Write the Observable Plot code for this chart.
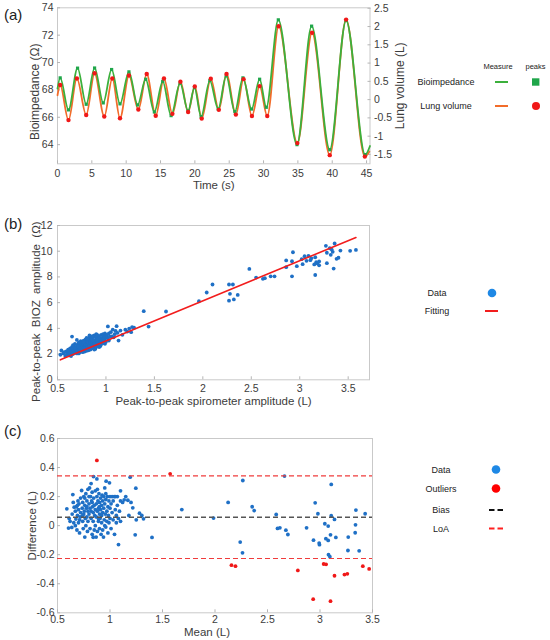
<!DOCTYPE html>
<html><head><meta charset="utf-8">
<script src="https://cdn.jsdelivr.net/npm/d3@7"></script>
<script src="https://cdn.jsdelivr.net/npm/@observablehq/plot@0.6"></script>
<style>
body{margin:0;background:#fff;}
#wrap{position:relative;width:550px;height:640px;font-family:"Liberation Sans",Arial,sans-serif;overflow:hidden;}
</style></head><body><div id="wrap"></div>
<script>
// ---------- Panel (a): breathing signals (start, extrema..., end) ----------
const bioT = [0, 0.39, 1.6, 2.92, 4.18, 5.4, 6.66, 7.88, 9.1, 10.4, 11.67, 12.84, 14.1, 15.32, 16.54, 17.85, 19.02, 19.94, 20.91, 22.18, 23.4, 24.56, 25.83, 27.0, 28.26, 29.43, 30.4, 32.15, 34.87, 37.0, 39.64, 42.02, 44.8, 45.5];
const bioZ = [68.1, 68.88, 66.54, 69.59, 66.95, 69.6, 67.05, 69.49, 66.98, 69.32, 66.9, 68.78, 66.39, 68.63, 66.12, 68.49, 66.46, 68.17, 66.05, 68.68, 66.6, 69.02, 66.41, 68.88, 66.6, 68.78, 66.73, 73.12, 64.0, 72.66, 63.63, 73.07, 63.27, 63.9];
const lungT = [0, 0.39, 1.6, 2.82, 4.18, 5.4, 6.81, 7.98, 9.1, 10.4, 11.77, 12.99, 14.3, 15.5, 16.73, 17.9, 19.02, 19.99, 21.0, 22.32, 23.49, 24.61, 25.97, 27.09, 28.31, 29.43, 30.54, 32.2, 34.92, 37.06, 39.64, 42.02, 44.75, 45.4];
const lungV = [0.12, 0.40, -0.56, 0.58, -0.42, 0.72, -0.46, 0.58, -0.51, 0.66, -0.27, 0.70, -0.44, 0.58, -0.39, 0.49, -0.34, 0.36, -0.52, 0.57, -0.28, 0.70, -0.41, 0.56, -0.45, 0.37, -0.45, 2.01, -1.19, 1.83, -1.52, 2.19, -1.56, -1.42];
const volOffset = 67.29;   // Ω at 0 L on the right axis
const volScale = 2.67;     // Ω per L
const timeTicks = [0, 5, 10, 15, 20, 25, 30, 35, 40, 45];
const bioTicks = [64, 66, 68, 70, 72, 74];
const volTicks = [-1.5, -1, -0.5, 0, 0.5, 1, 1.5, 2, 2.5];

// ---------- Panel (b): peak-to-peak amplitudes [spirometer L, BIOZ Ω] ----------
const bDense = [
[0.53,1.95],[0.54,2.28],[0.56,2.05],[0.58,1.85],[0.59,2.2],[0.6,2.1],[0.6,1.98],[0.57,2.15],
[0.61,2.35],[0.62,1.9],[0.62,2.2],[0.63,2.45],[0.63,2.05],[0.64,2.3],[0.64,1.85],[0.65,3.36],[0.65,2.15],[0.65,2.55],
[0.66,2.4],[0.66,2.0],[0.67,2.62],[0.67,2.25],[0.68,2.1],[0.68,2.8],[0.69,2.45],[0.69,2.3],[0.7,3.1],[0.7,2.6],[0.7,2.05],[0.7,2.38],[0.68,2.52],[0.66,2.7],
[0.71,2.75],[0.71,2.2],[0.72,2.5],[0.72,2.9],[0.72,2.35],[0.73,2.65],[0.73,2.15],[0.74,2.8],[0.74,2.45],[0.74,3.0],[0.75,2.55],[0.75,2.3],[0.75,2.95],[0.73,2.42],[0.71,2.6],[0.75,2.7],[0.74,2.25],[0.72,2.05],
[0.76,2.6],[0.76,2.85],[0.76,2.35],[0.77,3.05],[0.77,2.5],[0.77,2.75],[0.78,2.4],[0.78,2.9],[0.78,2.62],[0.79,3.15],[0.79,2.55],[0.79,2.3],[0.8,2.8],[0.8,2.45],[0.8,3.0],[0.8,2.65],[0.78,2.2],[0.76,2.15],[0.8,3.25],[0.79,2.72],[0.77,2.95],[0.8,2.25],
[0.81,2.7],[0.81,2.95],[0.81,2.5],[0.82,3.1],[0.82,2.6],[0.82,2.85],[0.83,2.4],[0.83,3.3],[0.83,2.75],[0.84,2.55],[0.84,3.0],[0.84,2.9],[0.85,2.65],[0.85,3.2],[0.85,2.45],[0.85,2.8],[0.83,3.45],[0.82,2.3],[0.84,2.35],[0.81,3.2],[0.85,3.05],[0.83,2.62],
[0.86,2.9],[0.86,2.6],[0.86,3.15],[0.87,2.75],[0.87,3.35],[0.87,2.5],[0.88,3.0],[0.88,2.85],[0.88,3.45],[0.89,2.65],[0.89,3.1],[0.89,2.4],[0.9,2.95],[0.9,3.25],[0.9,2.7],[0.9,2.55],[0.88,2.35],[0.86,3.4],[0.87,3.05],[0.89,2.82],[0.9,3.55],[0.86,2.45],
[0.91,3.0],[0.91,2.8],[0.91,3.3],[0.92,2.65],[0.92,3.15],[0.92,2.9],[0.93,3.4],[0.93,2.75],[0.93,3.05],[0.94,2.85],[0.94,3.2],[0.94,2.6],[0.95,3.5],[0.95,2.95],[0.95,3.1],[0.93,2.55],[0.91,3.5],[0.95,2.75],
[0.96,3.25],[0.96,2.9],[0.97,3.55],[0.97,3.0],[0.97,3.3],[0.98,2.85],[0.98,3.4],[0.98,3.15],[0.99,3.6],[0.99,3.05],[1.0,3.3],[1.0,2.95],[1.0,3.5],[0.99,2.8],
[1.01,3.45],[1.02,4.15],[1.02,3.2],[1.03,3.6],[1.04,3.35],[1.05,3.7],[1.06,3.38],[1.07,3.9],[1.08,3.3],[1.09,3.55],[1.1,3.8],[1.03,3.05],
[1.11,4.17],[1.12,3.65],[1.13,3.05],[1.15,3.83],[1.17,3.5],[1.2,3.9],[1.24,3.98],[1.26,3.7],[1.27,4.1],[1.29,4.05],[1.22,3.75]
];
const bMid = [
[1.39,5.34],[1.44,4.14],[1.62,5.31],[1.96,6.11],[2.04,6.79],[2.1,7.41],[2.27,7.41],[2.31,7.41],[2.28,6.69],[2.36,6.6],[2.27,6.15],[2.32,6.25],
[2.48,8.62],[2.55,7.95],[2.62,7.85],[2.64,7.9],[2.7,8.05],[2.74,8.05]
];
const bHigh = [
[2.86,9.28],[2.86,8.76],[2.92,9.22],[2.93,9.92],[2.92,8.05],[2.97,8.84],[3.02,9.38],[3.03,8.99],[3.05,9.61],[3.07,9.25],[3.09,9.64],[3.11,9.30],[3.12,9.45],[3.16,9.53],[3.17,9.15],[3.15,8.97],[3.16,8.15],[3.18,9.05],[3.2,8.9],
[3.27,10.42],[3.31,10.23],[3.36,10.60],[3.33,10.13],[3.28,9.88],[3.32,9.72],[3.28,9.07],[3.35,8.65],[3.38,9.41],[3.40,9.49],[3.42,10.05],[3.52,10.03],[3.58,10.1],[3.34,9.95],[3.2,9.2]
];
const fitSlope = 3.12;
const fitIntercept = -0.10;
const bXTicks = [0.5, 1, 1.5, 2, 2.5, 3, 3.5];
const bYTicks = [0, 2, 4, 6, 8, 10, 12];

// ---------- Panel (c): Bland–Altman [mean L, difference L] ----------
const cDense = [
[0.589,0.116],[0.605,-0.017],[0.611,0.05],[0.636,-0.012],[0.646,0.214],[0.659,0.127],[0.64,0.08],[0.62,0.03],[0.65,0.16],[0.655,0.02],
[0.67,0.1],[0.675,0.045],[0.68,0.13],[0.685,-0.03],[0.69,0.07],[0.695,0.17],[0.7,0.02],[0.7,0.11],[0.705,0.15],[0.71,-0.05],[0.715,0.06],[0.72,0.19],[0.72,0.09],[0.67,0.0],[0.69,0.14],[0.71,0.04],
[0.73,0.242],[0.735,0.12],[0.74,0.03],[0.74,0.16],[0.745,-0.02],[0.75,0.08],[0.75,0.2],[0.755,0.1],[0.76,-0.079],[0.76,0.14],[0.765,0.05],[0.77,0.22],[0.77,0.0],[0.775,0.12],[0.78,0.17],[0.78,0.06],[0.785,-0.04],[0.79,0.1],[0.79,0.25],[0.79,0.03],[0.76,0.19],[0.74,0.07],[0.78,0.13],
[0.8,0.15],[0.8,0.08],[0.805,0.26],[0.81,-0.02],[0.81,0.12],[0.815,0.2],[0.82,0.05],[0.82,0.1],[0.825,0.17],[0.83,-0.06],[0.83,0.23],[0.835,0.13],[0.84,0.03],[0.84,0.09],[0.843,0.338],[0.845,0.19],[0.85,-0.03],[0.85,0.14],[0.855,0.07],[0.86,0.24],[0.86,0.11],[0.86,0.0],[0.82,0.29],[0.8,0.2],[0.84,-0.08],[0.83,0.16],
[0.868,-0.079],[0.87,0.15],[0.87,0.06],[0.875,0.322],[0.875,0.2],[0.88,0.1],[0.88,-0.04],[0.885,0.17],[0.89,0.03],[0.89,0.12],[0.895,0.22],[0.9,-0.02],[0.9,0.08],[0.9,0.16],[0.905,0.05],[0.91,0.19],[0.91,0.11],[0.915,-0.06],[0.92,0.14],[0.92,0.02],[0.925,0.21],[0.93,0.09],[0.93,0.17],[0.93,-0.03],[0.88,0.25],[0.9,0.13],[0.92,0.07],[0.89,0.05],
[0.938,-0.079],[0.94,0.12],[0.94,0.2],[0.945,0.04],[0.95,0.15],[0.95,0.26],[0.955,0.08],[0.96,-0.01],[0.96,0.18],[0.963,0.306],[0.97,0.1],[0.97,0.03],[0.975,0.2],[0.98,0.13],[0.98,-0.05],[0.985,0.07],[0.99,0.17],[0.995,0.295],[1.0,0.05],[1.0,0.2],[1.0,0.12],[0.96,0.22],[0.95,0.0],[0.99,0.02],
[1.01,0.15],[1.01,-0.02],[1.02,0.2],[1.02,0.09],[1.03,0.04],[1.03,0.17],[1.04,0.2],[1.043,-0.06],[1.05,0.11],[1.05,0.2],[1.06,0.02],[1.07,0.14],[1.07,0.2],[1.08,0.05],[1.081,-0.13],[1.09,0.1],[1.1,0.24],[1.1,0.03],[1.1,0.17],[1.06,0.07],
[1.12,0.16],[1.135,0.178],[1.15,0.2],[1.17,0.175],[1.18,0.07],[1.192,0.334],[1.217,0.123],[1.24,-0.063],[1.246,0.258],[1.25,0.04],[1.281,0.086],[1.303,0.07],[1.319,0.047],[1.2,0.16]
];
const cSpread = [
[1.40,-0.081],[1.684,0.111],[1.986,0.052],[2.125,0.16],[2.265,0.311],[2.24,-0.113],[2.262,-0.187],[2.354,0.13],[2.373,0.104],[2.583,0.077],[2.662,0.341],[2.595,-0.019],[2.618,-0.015],[2.675,-0.031],[2.694,-0.061],[2.872,-0.015],[2.938,-0.1],[2.954,0.157],[2.98,0.082],[2.992,-0.12],[2.995,-0.131],[3.046,0.013],[3.078,-0.003],[3.056,-0.09],[3.078,-0.102],[3.1,-0.063],[3.107,0.068],[3.107,0.284],[3.138,0.043],[3.151,-0.081],[3.081,-0.2],[3.094,-0.214],[3.269,-0.079],[3.266,-0.171],[3.335,-0.049],[3.338,0.006],[3.342,0.107],[3.373,-0.173],[3.43,0.082]
];
const cOutliers = [
[0.875,0.449],[1.573,0.357],[2.157,-0.272],[2.195,-0.279],[2.789,-0.308],[2.935,-0.506],[3.035,-0.264],[3.058,-0.266],[3.138,-0.345],[3.1,-0.52],[3.233,-0.337],[3.26,-0.332],[3.408,-0.279],[3.468,-0.298]
];
const bias = 0.058;
const loaUpper = 0.342;
const loaLower = -0.226;
const cXTicks = [0.5, 1, 1.5, 2, 2.5, 3, 3.5];
const cYTicks = [-0.6, -0.4, -0.2, 0, 0.2, 0.4, 0.6];

// ---------- colours ----------
const green = "#3cb03c", greenMark = "#1fa64a", orange = "#f26c2a", redDot = "#f01818";
const blue = "#1f70c6", red = "#f21d1d", loaRed = "#f03c3c", grey = "#555555";
const tickGrey = "#b5b5b5", frameGrey = "#c9c9c9", textGrey = "#3c3c3c";

const fmt = d => String(Math.round(d * 100) / 100);
const noText = () => "";
const baseStyle = {fontFamily: '"Liberation Sans", Arial, sans-serif', fontSize: "10.5px", color: textGrey, background: "transparent", overflow: "visible"};
const wrap = document.getElementById("wrap");
function place(svg, top) {
  svg.style.position = "absolute"; svg.style.left = "0px"; svg.style.top = top + "px";
  wrap.appendChild(svg);
}
const lab = (s, o) => Plot.text([s], {text: d => d, fontSize: 11.5, fill: textGrey, textAnchor: "middle", lineAnchor: "middle", ...o});
const pairs = a => a.map(([x, y]) => ({x, y}));
// inward tick marks (no labels) + labels without ticks
const ticksX = t => Plot.axisX({ticks: t, tickSize: -3, tickFormat: noText, stroke: tickGrey, label: null});
const ticksY = (t, anchor = "left") => Plot.axisY({anchor, ticks: t, tickSize: -3, tickFormat: noText, stroke: tickGrey, label: null});

// ---------- Panel (a) ----------
const toOhm = v => volOffset + volScale * v;
const bioLine = bioT.map((t, i) => ({t, z: bioZ[i]}));
const lungLine = lungT.map((t, i) => ({t, z: toOhm(lungV[i])}));
const bioPeaks = bioLine.slice(1, -1);
const lungPeaks = lungLine.slice(1, -1);

place(Plot.plot({
  width: 550, height: 200,
  marginLeft: 57, marginRight: 180.5, marginTop: 7.3, marginBottom: 36.7,
  style: baseStyle,
  x: {domain: [0, 45.5]},
  y: {domain: [62.6, 74]},
  marks: [
    Plot.frame({stroke: frameGrey}),
    ticksX(timeTicks),
    ticksY(bioTicks),
    ticksY(volTicks.map(toOhm), "right"),
    Plot.axisX({ticks: timeTicks, tickSize: 0, tickPadding: 6, tickFormat: fmt, label: null}),
    Plot.axisY({ticks: bioTicks, tickSize: 0, tickPadding: 4, tickFormat: fmt, label: null}),
    Plot.axisY({anchor: "right", ticks: volTicks.map(toOhm), tickSize: 0, tickPadding: 4,
      tickFormat: d => fmt((d - volOffset) / volScale), label: null}),
    Plot.line(lungLine, {x: "t", y: "z", stroke: orange, strokeWidth: 1.8, curve: "monotone-x"}),
    Plot.line(bioLine, {x: "t", y: "z", stroke: green, strokeWidth: 1.8, curve: "monotone-x"}),
    Plot.dot(bioPeaks, {x: "t", y: "z", symbol: "square", r: 1.8, fill: greenMark}),
    Plot.dot(lungPeaks, {x: "t", y: "z", r: 2.2, fill: redDot}),
    lab("Time (s)", {frameAnchor: "bottom", dy: 22}),
    lab("Bioimpedance (Ω)", {frameAnchor: "left", dx: -22, dy: 6, rotate: -90, fontSize: 12}),
    lab("Lung volume (L)", {frameAnchor: "right", dx: 30, rotate: -90, fontSize: 12})
  ]
}), 0);

// ---------- Panel (b) ----------
const bAll = pairs([...bDense, ...bMid, ...bHigh]);
const fitRange = d3.extent(bAll, d => d.x);
const fitLine = fitRange.map(x => ({x, y: fitSlope * x + fitIntercept}));

place(Plot.plot({
  width: 550, height: 210,
  marginLeft: 57, marginRight: 181, marginTop: 25, marginBottom: 30.7,
  style: baseStyle,
  x: {domain: [0.5, 3.72]},
  y: {domain: [0, 12]},
  marks: [
    Plot.frame({stroke: frameGrey}),
    ticksX(bXTicks),
    ticksY(bYTicks),
    Plot.axisX({ticks: bXTicks, tickSize: 0, tickPadding: 4.5, tickFormat: fmt, label: null}),
    Plot.axisY({ticks: bYTicks, tickSize: 0, tickPadding: 5, tickFormat: fmt, label: null}),
    Plot.dot(bAll, {x: "x", y: "y", r: 1.9, fill: blue}),
    Plot.line(fitLine, {x: "x", y: "y", stroke: red, strokeWidth: 1.6}),
    lab("Peak-to-peak spirometer amplitude (L)", {frameAnchor: "bottom", dy: 21.5}),
    lab("Peak-to-peak  BIOZ  amplitude  (Ω)", {frameAnchor: "left", dx: -21, dy: 9, rotate: -90})
  ]
}), 200);

// ---------- Panel (c) ----------
place(Plot.plot({
  width: 550, height: 230,
  marginLeft: 57, marginRight: 178, marginTop: 28, marginBottom: 27.7,
  style: baseStyle,
  x: {domain: [0.5, 3.5]},
  y: {domain: [-0.6, 0.6]},
  marks: [
    Plot.frame({stroke: frameGrey}),
    ticksX(cXTicks),
    ticksY(cYTicks),
    Plot.axisX({ticks: cXTicks, tickSize: 0, tickPadding: 3, tickFormat: fmt, label: null}),
    Plot.axisY({ticks: cYTicks, tickSize: 0, tickPadding: 3, tickFormat: fmt, label: null}),
    Plot.dot(pairs([...cDense, ...cSpread]), {x: "x", y: "y", r: 1.9, fill: blue}),
    Plot.dot(pairs(cOutliers), {x: "x", y: "y", r: 1.9, fill: redDot}),
    Plot.ruleY([bias], {stroke: grey, strokeWidth: 1.4, strokeDasharray: "5,3"}),
    Plot.ruleY([loaUpper, loaLower], {stroke: loaRed, strokeWidth: 1.2, strokeDasharray: "5,3"}),
    lab("Mean (L)", {frameAnchor: "bottom", dx: -8, dy: 19.5}),
    lab("Difference (L)", {frameAnchor: "left", dx: -25, rotate: -90})
  ]
}), 410);

// ---------- Panel letters and legends (overlay) ----------
const ov = d3.select(wrap).append("svg").attr("width", 550).attr("height", 640)
  .style("position", "absolute").style("left", "0px").style("top", "0px")
  .attr("font-family", '"Liberation Sans", Arial, sans-serif');
function txt(x, y, s, size, anchor = "middle") {
  ov.append("text").attr("x", x).attr("y", y).attr("dy", "0.35em").attr("text-anchor", anchor)
    .attr("font-size", size).attr("fill", "#222").text(s);
}
txt(4, 15, "(a)", 15, "start");
txt(4, 224, "(b)", 15, "start");
txt(4, 431, "(c)", 15, "start");

// legend (a)
txt(498, 66, "Measure", 7.5);
txt(535.5, 66, "peaks", 7.5);
txt(446, 82, "Bioimpedance", 9);
txt(446, 106, "Lung volume", 9);
ov.append("line").attr("x1", 495).attr("x2", 508).attr("y1", 82).attr("y2", 82).attr("stroke", green).attr("stroke-width", 2);
ov.append("rect").attr("x", 532).attr("y", 78.3).attr("width", 7.4).attr("height", 7.4).attr("fill", greenMark);
ov.append("line").attr("x1", 495).attr("x2", 508).attr("y1", 106).attr("y2", 106).attr("stroke", orange).attr("stroke-width", 2);
ov.append("circle").attr("cx", 536).attr("cy", 106).attr("r", 4).attr("fill", redDot);

// legend (b)
txt(437, 293, "Data", 9);
txt(437, 311, "Fitting", 9);
ov.append("circle").attr("cx", 492).attr("cy", 293).attr("r", 4.3).attr("fill", "#1e88e5");
ov.append("line").attr("x1", 485).attr("x2", 498).attr("y1", 311).attr("y2", 311).attr("stroke", red).attr("stroke-width", 2);

// legend (c)
txt(441, 469.5, "Data", 9);
txt(441, 488.5, "Outliers", 9);
txt(441, 510, "Bias", 9);
txt(441, 528.5, "LoA", 9);
ov.append("circle").attr("cx", 496).attr("cy", 469.5).attr("r", 4.3).attr("fill", "#1e88e5");
ov.append("circle").attr("cx", 496).attr("cy", 488.5).attr("r", 4.3).attr("fill", "#ff0000");
ov.append("line").attr("x1", 489).attr("x2", 503).attr("y1", 510).attr("y2", 510).attr("stroke", "#111").attr("stroke-width", 2).attr("stroke-dasharray", "5.5,3");
ov.append("line").attr("x1", 489).attr("x2", 503).attr("y1", 528.5).attr("y2", 528.5).attr("stroke", "#ff2020").attr("stroke-width", 2).attr("stroke-dasharray", "5.5,3");
</script></body></html>
